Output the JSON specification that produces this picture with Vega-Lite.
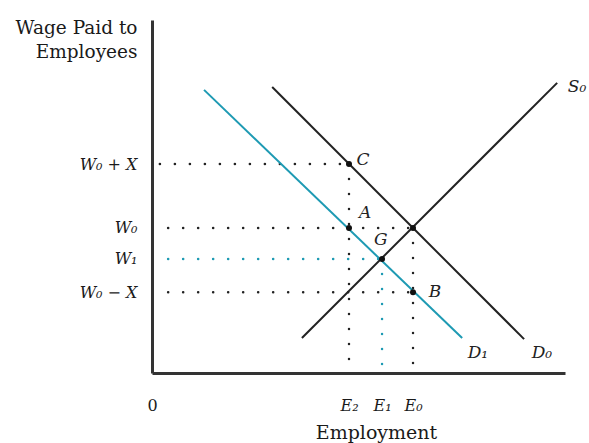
{
  "$schema": "https://vega.github.io/schema/vega-lite/v6.json",
  "width": 413,
  "height": 353,
  "autosize": {"type": "none"},
  "padding": {"left": 152, "top": 20, "right": 24, "bottom": 70},
  "background": "white",
  "config": {"view": {"stroke": null}, "font": "DejaVu Serif"},
  "datasets": {
    "curves": [
      {"curve": "D0", "tone": "ink", "k": 0, "x": 29.1, "y": 81.0},
      {"curve": "D0", "tone": "ink", "k": 1, "x": 90.1, "y": 9.6},
      {"curve": "D1", "tone": "teal", "k": 0, "x": 12.6, "y": 80.2},
      {"curve": "D1", "tone": "teal", "k": 1, "x": 75.1, "y": 9.9},
      {"curve": "S0", "tone": "ink", "k": 0, "x": 36.3, "y": 9.9},
      {"curve": "S0", "tone": "ink", "k": 1, "x": 98.1, "y": 82.2}
    ],
    "guides": [
      {"seg": "wage high", "tone": "ink", "k": 0, "x": 1.9, "y": 59.2},
      {"seg": "wage high", "tone": "ink", "k": 1, "x": 47.7, "y": 59.2},
      {"seg": "wage base", "tone": "ink", "k": 0, "x": 3.9, "y": 41.1},
      {"seg": "wage base", "tone": "ink", "k": 1, "x": 63.2, "y": 41.1},
      {"seg": "wage new", "tone": "teal", "k": 0, "x": 3.9, "y": 32.3},
      {"seg": "wage new", "tone": "teal", "k": 1, "x": 55.7, "y": 32.3},
      {"seg": "wage low", "tone": "ink", "k": 0, "x": 3.9, "y": 22.9},
      {"seg": "wage low", "tone": "ink", "k": 1, "x": 63.2, "y": 22.9},
      {"seg": "emp 2", "tone": "ink", "k": 0, "x": 47.7, "y": 59.2},
      {"seg": "emp 2", "tone": "ink", "k": 1, "x": 47.7, "y": 0},
      {"seg": "emp 1", "tone": "teal", "k": 0, "x": 55.7, "y": 32.3},
      {"seg": "emp 1", "tone": "teal", "k": 1, "x": 55.7, "y": 0},
      {"seg": "emp 0", "tone": "ink", "k": 0, "x": 63.2, "y": 41.1},
      {"seg": "emp 0", "tone": "ink", "k": 1, "x": 63.2, "y": 0}
    ],
    "points": [
      {"name": "C", "x": 47.7, "y": 59.2},
      {"name": "A", "x": 47.7, "y": 41.1},
      {"name": "E", "x": 63.2, "y": 41.1},
      {"name": "G", "x": 55.7, "y": 32.3},
      {"name": "B", "x": 63.2, "y": 22.9}
    ],
    "labels": [
      {"text": "C", "x": 51.1, "y": 60.3},
      {"text": "A", "x": 51.6, "y": 45.3},
      {"text": "G", "x": 55.4, "y": 37.7},
      {"text": "B", "x": 68.5, "y": 22.9},
      {"text": "S₀", "x": 102.9, "y": 81.0},
      {"text": "D₁", "x": 78.9, "y": 5.7},
      {"text": "D₀", "x": 94.4, "y": 5.7}
    ]
  },
  "encoding": {
    "x": {
      "field": "x", "type": "quantitative",
      "scale": {"domain": [0, 100], "nice": false},
      "axis": {
        "values": [0, 47.7, 55.7, 63.2],
        "labelExpr": "datum.value == 0 ? '0' : datum.value < 50 ? 'E₂' : datum.value < 60 ? 'E₁' : 'E₀'",
        "labelFontStyle": {"condition": {"test": "datum.value == 0", "value": "normal"}, "value": "italic"},
        "labelFont": "DejaVu Serif", "labelFontSize": 16, "labelColor": "#1a1a1a",
        "labelPadding": 24, "labelFlush": false, "labelOverlap": false, "labelBound": false,
        "ticks": false, "tickSize": 0, "grid": false,
        "domainColor": "#333333", "domainWidth": 3,
        "title": "Employment", "titleFont": "DejaVu Serif", "titleFontSize": 19, "titleFontWeight": "normal", "titleColor": "#1a1a1a",
        "titleX": 224, "titleY": 65, "titleAlign": "center", "titleBaseline": "alphabetic"
      }
    },
    "y": {
      "field": "y", "type": "quantitative",
      "scale": {"domain": [0, 100], "nice": false},
      "axis": {
        "values": [22.9, 32.3, 41.1, 59.2],
        "labelExpr": "datum.value > 50 ? 'W₀ + X' : datum.value > 40 ? 'W₀' : datum.value > 30 ? 'W₁' : 'W₀ − X'",
        "labelFontStyle": "italic",
        "labelFont": "DejaVu Serif", "labelFontSize": 16, "labelColor": "#1a1a1a",
        "labelPadding": 15, "labelOverlap": false, "labelBound": false, "labelFlush": false,
        "ticks": false, "tickSize": 0, "grid": false,
        "domainColor": "#333333", "domainWidth": 3,
        "title": ["Wage Paid to", "Employees"], "titleFont": "DejaVu Serif", "titleFontSize": 18.5, "titleFontWeight": "normal", "titleColor": "#1a1a1a",
        "titleAngle": 0, "titleAlign": "right", "titleBaseline": "alphabetic",
        "titleX": -15, "titleY": 13, "titleLineHeight": 24
      }
    }
  },
  "layer": [
    {
      "data": {"name": "guides"},
      "mark": {"type": "line", "strokeWidth": 2.5, "strokeCap": "round", "strokeDash": [0.1, 14.9]},
      "encoding": {
        "detail": {"field": "seg"},
        "order": {"field": "k"},
        "color": {"field": "tone", "type": "nominal", "scale": {"domain": ["ink", "teal"], "range": ["#222222", "#1e9ab3"]}, "legend": null}
      }
    },
    {
      "data": {"name": "curves"},
      "mark": {"type": "line", "strokeWidth": 2},
      "encoding": {
        "detail": {"field": "curve"},
        "order": {"field": "k"},
        "color": {"field": "tone", "type": "nominal", "scale": {"domain": ["ink", "teal"], "range": ["#222222", "#1e9ab3"]}, "legend": null}
      }
    },
    {
      "data": {"name": "points"},
      "mark": {"type": "point", "filled": true, "size": 36, "color": "#111", "opacity": 1}
    },
    {
      "data": {"name": "labels"},
      "mark": {"type": "text", "font": "DejaVu Serif", "fontStyle": "italic", "fontSize": 17, "color": "#222", "align": "center", "baseline": "middle"},
      "encoding": {
        "text": {"field": "text"}
      }
    }
  ]
}
